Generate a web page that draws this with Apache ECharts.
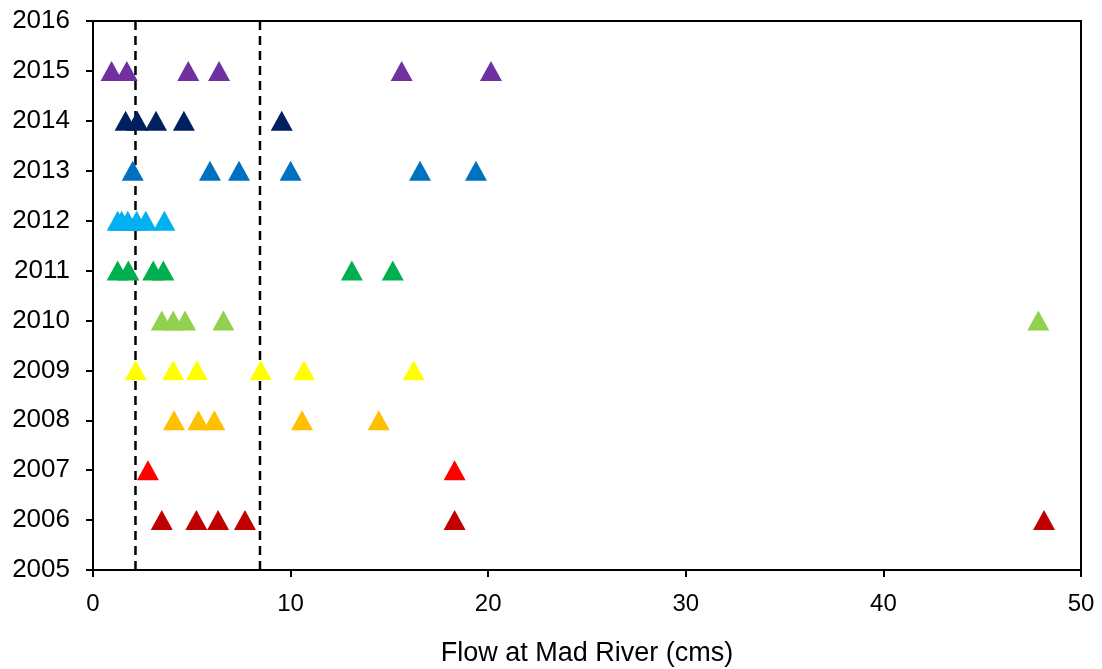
<!DOCTYPE html>
<html>
<head>
<meta charset="utf-8">
<script src="https://cdn.jsdelivr.net/npm/echarts@6/dist/echarts.min.js"></script>
<style>html,body{margin:0;padding:0;background:#fff}#c{width:1102px;height:669px}</style>
</head>
<body>
<div id="c"></div>
<script>
const years = [2006, 2007, 2008, 2009, 2010, 2011, 2012, 2013, 2014, 2015];
const flow2006 = [3.48, 5.23, 6.33, 7.69, 18.3, 48.13];
const flow2007 = [2.78, 18.3];
const flow2008 = [4.1, 5.33, 6.14, 10.58, 14.46];
const flow2009 = [2.16, 4.06, 5.26, 8.49, 10.68, 16.23];
const flow2010 = [3.48, 4.06, 4.66, 6.6, 47.84];
const flow2011 = [1.25, 1.79, 3.05, 3.56, 13.1, 15.17];
const flow2012 = [1.25, 1.45, 1.76, 2.21, 2.67, 3.61];
const flow2013 = [2.01, 5.92, 7.39, 10.0, 16.55, 19.38];
const flow2014 = [1.65, 2.24, 3.19, 4.6, 9.55];
const flow2015 = [0.94, 1.71, 4.82, 6.38, 15.62, 20.14];
const flows = [flow2006, flow2007, flow2008, flow2009, flow2010, flow2011, flow2012, flow2013, flow2014, flow2015];
const colors = ['#C00000', '#FF0000', '#FFC000', '#FFFF00', '#92D050', '#00B050', '#00B0F0', '#0070C0', '#002060', '#7030A0'];
const thresholds = [2.15, 8.45];
const xTicks = [0, 10, 20, 30, 40, 50];
const yRange = [2005, 2016];

const font = 'Liberation Sans, Arial, sans-serif';
const series = [];
thresholds.forEach(t => {
  series.push({
    type: 'line',
    data: [[t, yRange[0]], [t, yRange[1]]],
    symbol: 'none',
    lineStyle: { color: '#000', width: 2.5, type: [9, 6] },
    silent: true,
    z: 1
  });
});
years.forEach((yr, i) => {
  series.push({
    type: 'scatter',
    data: flows[i].map(v => [v, yr]),
    symbol: 'triangle',
    symbolSize: [22, 20],
    itemStyle: { color: colors[i], opacity: 1 },
    z: 2
  });
});

const chart = echarts.init(document.getElementById('c'), null, { renderer: 'canvas' });
chart.setOption({
  animation: false,
  backgroundColor: '#fff',
  grid: { left: 93, right: 21, top: 21, bottom: 99, containLabel: false, outerBoundsMode: 'none', show: true, borderColor: '#000', borderWidth: 2, backgroundColor: 'transparent' },
  xAxis: {
    type: 'value', min: xTicks[0], max: xTicks[xTicks.length - 1], interval: 10,
    name: 'Flow at Mad River (cms)', nameLocation: 'middle', nameGap: 70,
    nameTextStyle: { fontFamily: font, fontSize: 27, color: '#000' },
    axisLine: { show: true, onZero: false, lineStyle: { color: '#000', width: 2 } },
    axisTick: { show: true, length: 7, lineStyle: { color: '#000', width: 2 } },
    axisLabel: { fontFamily: font, fontSize: 24, color: '#000', margin: 22 },
    splitLine: { show: false }
  },
  yAxis: {
    type: 'value', min: yRange[0], max: yRange[1], interval: 1,
    axisLine: { show: true, onZero: false, lineStyle: { color: '#000', width: 2 } },
    axisTick: { show: true, length: 7, lineStyle: { color: '#000', width: 2 } },
    axisLabel: { fontFamily: font, fontSize: 26, color: '#000', margin: 23, formatter: v => String(v) },
    splitLine: { show: false }
  },
  series: series
});
</script>
</body>
</html>
